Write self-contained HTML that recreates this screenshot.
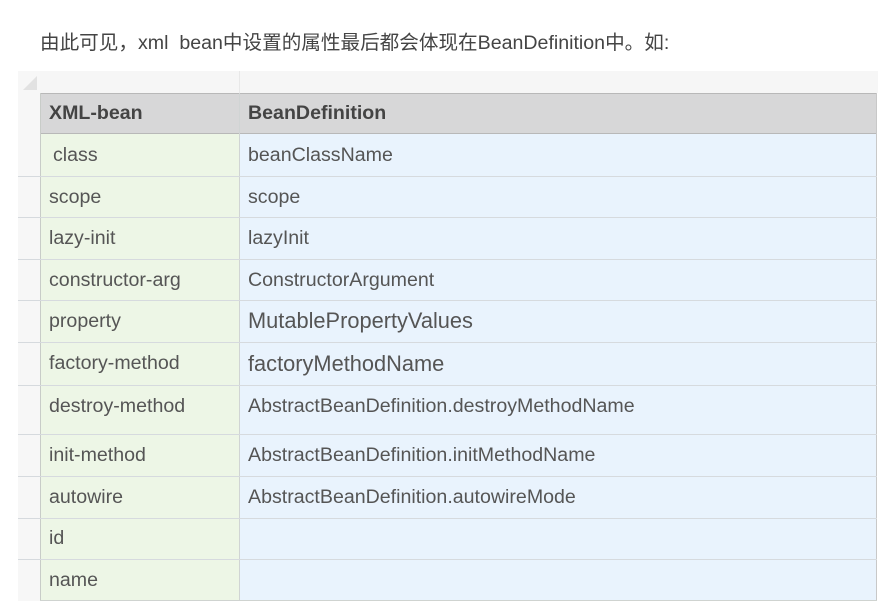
<!DOCTYPE html>
<html><head><meta charset="utf-8"><style>
body{margin:0;width:883px;height:609px;background:#fff;position:relative;overflow:hidden;font-family:"Liberation Sans","Noto Sans CJK SC",sans-serif;color:#555}
.a{position:absolute}
.t{position:absolute;font-size:19.6px;white-space:nowrap;line-height:22px}
.l{position:absolute;left:18px;width:859px;height:1px;background:#d6dade}
</style></head><body>
<div class="t" style="left:40px;top:32px;font-size:19.6px;color:#444">由此可见，xml&nbsp; bean中设置的属性最后都会体现在BeanDefinition中。如:</div>
<div class="a" style="left:18px;top:71px;width:860px;height:22px;background:#f6f6f6"></div>
<div class="a" style="left:18px;top:71px;width:22px;height:530px;background:#f7f7f7"></div>
<div class="a" style="left:23px;top:76px;width:0;height:0;border-left:14px solid transparent;border-bottom:14px solid #e2e2e2"></div>
<div class="a" style="left:239px;top:71px;width:1px;height:22px;background:#e8e8e8"></div>
<div class="a" style="left:40px;top:134px;width:199px;height:466px;background:#edf6e6"></div>
<div class="a" style="left:240px;top:134px;width:637px;height:466px;background:#e9f3fd"></div>
<div class="a" style="left:40px;top:93px;width:837px;height:41px;background:#d7d7d8;border-top:1px solid #b8b8b8;border-bottom:1px solid #b8b8b8;box-sizing:border-box"></div>
<div class="a" style="left:40px;top:93px;width:1px;height:508px;background:#c8ccc8"></div>
<div class="a" style="left:876px;top:93px;width:1px;height:508px;background:#c8c8c8"></div>
<div class="a" style="left:239px;top:93px;width:1px;height:508px;background:#d0d4d4"></div>
<div class="a" style="left:40px;top:600px;width:837px;height:1px;background:#cfd3d0"></div>
<div class="t" style="left:49px;top:102px;font-weight:bold;color:#444">XML-bean</div>
<div class="t" style="left:248px;top:102px;font-weight:bold;color:#444">BeanDefinition</div>
<div class="l" style="top:176px"></div>
<div class="l" style="top:217px"></div>
<div class="l" style="top:259px"></div>
<div class="l" style="top:300px"></div>
<div class="l" style="top:342px"></div>
<div class="l" style="top:385px"></div>
<div class="l" style="top:434px"></div>
<div class="l" style="top:476px"></div>
<div class="l" style="top:518px"></div>
<div class="l" style="top:559px"></div>

<div class="t" style="left:53px;top:144px">class</div><div class="t" style="left:248px;top:144px">beanClassName</div>
<div class="t" style="left:49px;top:186px">scope</div><div class="t" style="left:248px;top:186px">scope</div>
<div class="t" style="left:49px;top:227px">lazy-init</div><div class="t" style="left:248px;top:227px">lazyInit</div>
<div class="t" style="left:49px;top:269px">constructor-arg</div><div class="t" style="left:248px;top:269px">ConstructorArgument</div>
<div class="t" style="left:49px;top:310px">property</div><div class="t" style="left:248px;top:310px;font-size:21.8px">MutablePropertyValues</div>
<div class="t" style="left:49px;top:352px">factory-method</div><div class="t" style="left:248px;top:353px;font-size:21.8px">factoryMethodName</div>
<div class="t" style="left:49px;top:395px">destroy-method</div><div class="t" style="left:248px;top:395px">AbstractBeanDefinition.destroyMethodName</div>
<div class="t" style="left:49px;top:444px">init-method</div><div class="t" style="left:248px;top:444px">AbstractBeanDefinition.initMethodName</div>
<div class="t" style="left:49px;top:486px">autowire</div><div class="t" style="left:248px;top:486px">AbstractBeanDefinition.autowireMode</div>
<div class="t" style="left:49px;top:527px">id</div>
<div class="t" style="left:49px;top:569px">name</div>
</body></html>
